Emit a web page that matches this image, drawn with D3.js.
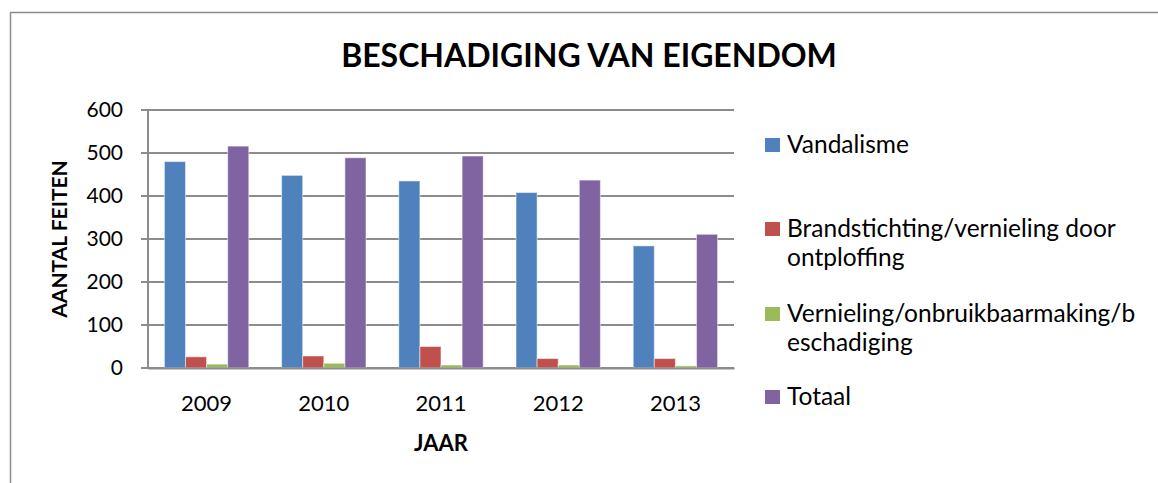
<!DOCTYPE html>
<html>
<head>
<meta charset="utf-8">
<script src="https://cdn.jsdelivr.net/npm/d3@7"></script>
<style>
  body { margin: 0; background: #fff; }
  svg { display: block; font-family: Lato, "Open Sans", sans-serif; }
</style>
</head>
<body>
<svg id="chart"></svg>
<script>
const years = ['2009', '2010', '2011', '2012', '2013'];
const seriesNames = [
  'Vandalisme',
  'Brandstichting/vernieling door ontploffing',
  'Vernieling/onbruikbaarmaking/beschadiging',
  'Totaal',
];
const vandalisme = [480, 448, 435, 408, 284];
const brandstichting = [26, 28, 50, 22, 22];
const vernieling = [9, 11, 7, 7, 5];
const totaal = [516, 489, 493, 437, 311];
const yTicks = [0, 100, 200, 300, 400, 500, 600];
// legend labels are wrapped like in the original
const legendLines = [
  ['Vandalisme'],
  ['Brandstichting/vernieling door', 'ontploffing'],
  ['Vernieling/onbruikbaarmaking/b', 'eschadiging'],
  ['Totaal'],
];
const colors = ['#4f81bd', '#c0504d', '#9bbb59', '#8064a2'];

const allSeries = [vandalisme, brandstichting, vernieling, totaal];
const rows = years.map((year, i) => ({
  year: year,
  values: seriesNames.map((name, s) => ({name: name, value: allSeries[s][i]})),
}));

const svgWidth = 1158, svgHeight = 483;
const plot = {left: 148, right: 734, top: 110, bottom: 368};

const svg = d3.select('#chart')
    .attr('width', svgWidth)
    .attr('height', svgHeight);

// chart area border (only top and left visible in the crop)
svg.append('rect')
    .attr('x', 10.5)
    .attr('y', 12.5)
    .attr('width', 1200)
    .attr('height', 600)
    .attr('fill', 'none')
    .attr('stroke', '#8c8c8c')
    .attr('stroke-width', 1.5);

const x0 = d3.scaleBand()
    .domain(years)
    .range([plot.left, plot.right]);

const gap = x0.bandwidth() * 0.28;
const x1 = d3.scaleBand()
    .domain(seriesNames)
    .range([gap / 2, x0.bandwidth() - gap / 2]);

const y = d3.scaleLinear()
    .domain([0, 600])
    .range([plot.bottom, plot.top]);

const color = d3.scaleOrdinal().domain(seriesNames).range(colors);

// gridlines
svg.append('g')
    .selectAll('line')
    .data(yTicks)
    .join('line')
    .attr('x1', plot.left - 7)
    .attr('x2', plot.right)
    .attr('y1', d => y(d))
    .attr('y2', d => y(d))
    .attr('stroke', '#8c8c8c')
    .attr('stroke-width', 2);

// y axis
const yAxis = svg.append('g')
    .attr('transform', `translate(${plot.left},0)`)
    .call(d3.axisLeft(y).tickValues(yTicks).tickSize(0).tickPadding(25));
yAxis.select('.domain').remove();
yAxis.append('line')
    .attr('y1', plot.top)
    .attr('y2', plot.bottom)
    .attr('stroke', '#8c8c8c')
    .attr('stroke-width', 2);
yAxis.selectAll('text')
    .attr('font-family', 'Lato')
    .attr('font-size', 21)
    .attr('fill', '#000');

// bars
svg.append('g')
    .selectAll('g')
    .data(rows)
    .join('g')
    .attr('transform', d => `translate(${x0(d.year)},0)`)
    .selectAll('rect')
    .data(d => d.values)
    .join('rect')
    .attr('x', d => x1(d.name))
    .attr('y', d => y(d.value))
    .attr('width', x1.bandwidth())
    .attr('height', d => y(0) - y(d.value))
    .attr('fill', d => color(d.name))
    .attr('stroke', '#fff')
    .attr('stroke-opacity', 0.5)
    .attr('stroke-width', 1);

// x axis
const xAxis = svg.append('g')
    .attr('transform', `translate(0,${plot.bottom})`)
    .call(d3.axisBottom(x0).tickSize(0).tickPadding(27));
xAxis.select('.domain')
    .attr('stroke', '#8c8c8c')
    .attr('stroke-width', 2);
xAxis.selectAll('text')
    .attr('font-family', 'Lato')
    .attr('font-size', 22)
    .attr('fill', '#000');

// title
svg.append('text')
    .attr('x', 589)
    .attr('y', 67)
    .attr('text-anchor', 'middle')
    .attr('font-size', 32)
    .attr('font-weight', 'bold')
    .text('BESCHADIGING VAN EIGENDOM');

// axis titles
svg.append('text')
    .attr('transform', 'translate(67,239) rotate(-90)')
    .attr('text-anchor', 'middle')
    .attr('font-size', 21)
    .attr('font-weight', 'bold')
    .text('AANTAL FEITEN');

svg.append('text')
    .attr('x', 441)
    .attr('y', 451)
    .attr('text-anchor', 'middle')
    .attr('font-size', 22)
    .attr('font-weight', 'bold')
    .text('JAAR');

// legend
const legendY = [145, 229, 314, 397];
const legend = svg.append('g')
    .selectAll('g')
    .data(seriesNames)
    .join('g')
    .attr('transform', (d, i) => `translate(765,${legendY[i]})`);

legend.append('rect')
    .attr('x', 0)
    .attr('y', -7)
    .attr('width', 15)
    .attr('height', 14)
    .attr('fill', d => color(d));

legend.append('text')
    .attr('font-size', 24.5)
    .selectAll('tspan')
    .data((d, i) => legendLines[i])
    .join('tspan')
    .attr('x', 22)
    .attr('y', (d, i) => 8 + i * 29)
    .text(d => d);
</script>
</body>
</html>
